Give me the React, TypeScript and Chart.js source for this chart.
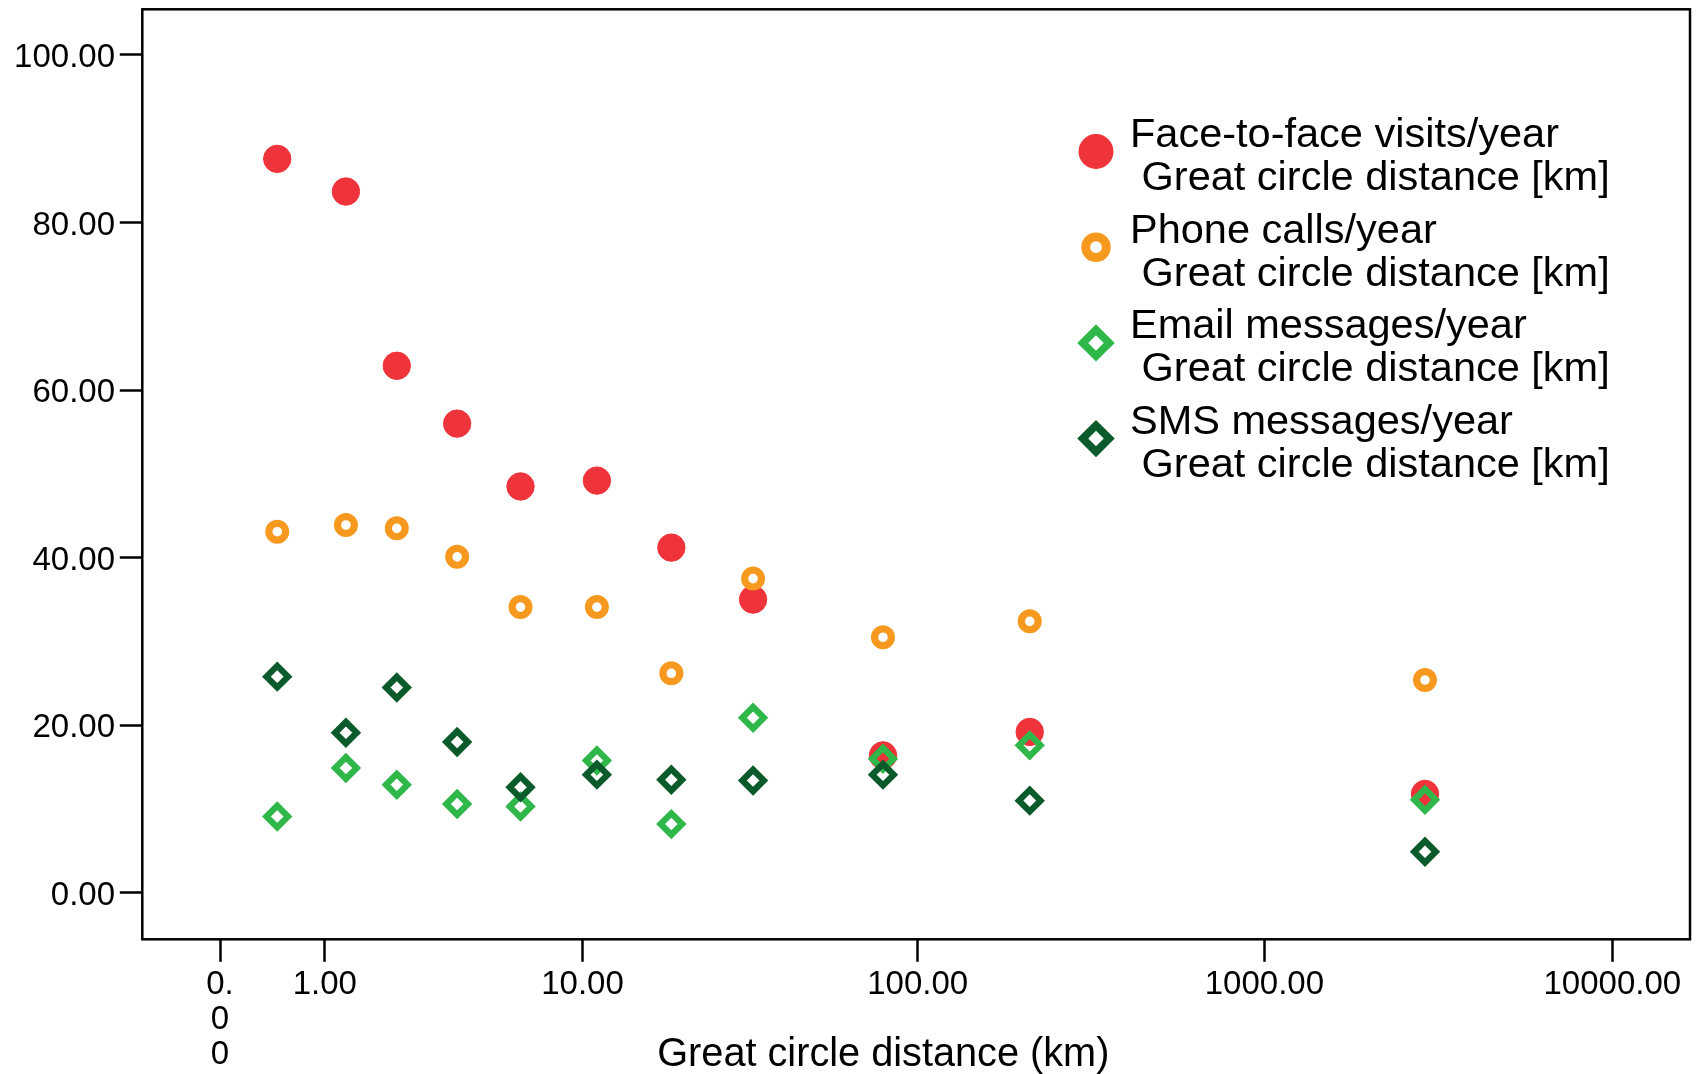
import React, { useEffect, useRef } from 'react';
import { Chart, registerables } from 'chart.js';

Chart.register(...registerables);

// ---- Data ----
const distanceKm = [0.46, 1.3, 2.22, 3.8, 6.3, 11.1, 18.8, 33, 79.3, 211, 2896];
const faceToFaceVisits = [87.6, 83.7, 62.9, 56.0, 48.5, 49.2, 41.2, 35.0, 16.4, 19.2, 11.8];
const phoneCalls = [43.1, 43.9, 43.5, 40.1, 34.1, 34.1, 26.2, 37.5, 30.5, 32.4, 25.4];
const emailMessages = [9.1, 14.9, 12.9, 10.6, 10.3, 15.8, 8.2, 20.9, 16.0, 17.6, 11.1];
const smsMessages = [25.8, 19.1, 24.5, 18.0, 12.6, 14.1, 13.5, 13.4, 14.1, 11.0, 4.9];

const xTickValues = [0, 1, 10, 100, 1000, 10000];
const yTickValues = [0, 20, 40, 60, 80, 100];

const seriesLabels = [
  'Face-to-face visits/year',
  'Phone calls/year',
  'Email messages/year',
  'SMS messages/year',
];
const legendSubLabel = ' Great circle distance [km]';
const xAxisTitle = 'Great circle distance (km)';

// ---- Styles ----
const FONT = '"Liberation Sans", Arial, Helvetica, sans-serif';
const RED = '#ef333b';
const ORANGE = '#f7991f';
const LIGHT_GREEN = '#2fb74a';
const DARK_GREEN = '#0b5a2b';
const CLEAR = 'rgba(0,0,0,0)';

const toX = (d: number) => Math.log10(d + 1);

const points = (ys: number[]) => distanceKm.map((d, i) => ({ x: toX(d), y: ys[i] }));

const zeroPadding = (s: any) => {
  s.paddingTop = 0;
  s.paddingBottom = 0;
  s.paddingLeft = 0;
  s.paddingRight = 0;
};

const framePlugin = {
  id: 'frame',
  afterDatasetsDraw(chart: any) {
    const { ctx, chartArea: a } = chart;
    ctx.save();
    ctx.strokeStyle = '#000';
    ctx.lineWidth = 2.5;
    ctx.strokeRect(a.left, a.top, a.right - a.left, a.bottom - a.top);
    ctx.restore();
  },
};

const legendPlugin = {
  id: 'customLegend',
  afterDraw(chart: any) {
    const { ctx } = chart;
    const markerX = 1096;
    const textX = 1130;
    const firstBaseline = 147;
    const lineGap = 43;
    const entryGap = 95.7;
    const k = 1.23;
    chart.data.datasets.forEach((ds: any, i: number) => {
      const base = firstBaseline + i * entryGap;
      const my = base + 4.5;
      ctx.save();
      const r = ds.pointRadius * k;
      const bw = ds.pointBorderWidth * k;
      ctx.beginPath();
      if (ds.pointStyle === 'rectRot') {
        ctx.moveTo(markerX - r, my);
        ctx.lineTo(markerX, my - r);
        ctx.lineTo(markerX + r, my);
        ctx.lineTo(markerX, my + r);
        ctx.closePath();
      } else {
        ctx.arc(markerX, my, r, 0, Math.PI * 2);
      }
      ctx.fillStyle = ds.pointBackgroundColor;
      ctx.fill();
      if (bw > 0) {
        ctx.lineWidth = bw;
        ctx.strokeStyle = ds.pointBorderColor;
        ctx.stroke();
      }
      ctx.restore();

      ctx.save();
      ctx.fillStyle = '#000';
      ctx.font = `41.5px ${FONT}`;
      ctx.textAlign = 'left';
      ctx.textBaseline = 'alphabetic';
      ctx.fillText(seriesLabels[i], textX, base);
      ctx.fillText(legendSubLabel, textX, base + lineGap);
      ctx.restore();
    });

    // x-axis title
    ctx.save();
    ctx.fillStyle = '#000';
    ctx.font = `40.5px ${FONT}`;
    ctx.textAlign = 'center';
    ctx.textBaseline = 'alphabetic';
    ctx.translate(883.3, 1065.7);
    ctx.scale(0.98, 1);
    ctx.fillText(xAxisTitle, 0, 0);
    ctx.restore();
  },
};

export default function App() {
  const canvasRef = useRef<HTMLCanvasElement | null>(null);

  useEffect(() => {
    const canvas = canvasRef.current;
    if (!canvas) return;
    const tickFont = { family: FONT, size: 33, lineHeight: 1.07 };
    const chart = new Chart(canvas, {
      type: 'scatter',
      data: {
        datasets: [
          {
            label: seriesLabels[0],
            data: points(faceToFaceVisits),
            pointStyle: 'circle',
            pointRadius: 13.7,
            pointBorderWidth: 1,
            pointBackgroundColor: RED,
            pointBorderColor: RED,
            order: 4,
          },
          {
            label: seriesLabels[1],
            data: points(phoneCalls),
            pointStyle: 'circle',
            pointRadius: 8.4,
            pointBorderWidth: 7.2,
            pointBackgroundColor: CLEAR,
            pointBorderColor: ORANGE,
            order: 3,
          },
          {
            label: seriesLabels[2],
            data: points(emailMessages),
            pointStyle: 'rectRot',
            pointRadius: 10.75,
            pointBorderWidth: 6.3,
            pointBackgroundColor: CLEAR,
            pointBorderColor: LIGHT_GREEN,
            order: 2,
          },
          {
            label: seriesLabels[3],
            data: points(smsMessages),
            pointStyle: 'rectRot',
            pointRadius: 10.75,
            pointBorderWidth: 6.3,
            pointBackgroundColor: CLEAR,
            pointBorderColor: DARK_GREEN,
            order: 1,
          },
        ] as any,
      },
      options: {
        animation: false,
        responsive: false,
        devicePixelRatio: 1,
        events: [],
        layout: { autoPadding: false, padding: { top: 9.3, right: 13, bottom: 0, left: 0 } },
        plugins: {
          legend: { display: false },
          tooltip: { enabled: false },
          title: { display: false },
        },
        scales: {
          x: {
            type: 'linear',
            min: -0.2233,
            max: 4.2233,
            afterBuildTicks: (s: any) => {
              s.ticks = xTickValues.map((v) => ({ value: toX(v) }));
            },
            afterFit: (s: any) => {
              s.height = 134.7;
              zeroPadding(s);
            },
            ticks: {
              autoSkip: false,
              maxRotation: 0,
              minRotation: 0,
              padding: 5.2,
              color: '#000',
              font: tickFont,
              callback: (v: any) => {
                const d = Math.round(Math.pow(10, Number(v)) - 1);
                return d === 0 ? ['0.', '0', '0'] : d.toFixed(2);
              },
            },
            grid: {
              drawOnChartArea: false,
              drawTicks: true,
              tickLength: 22.5,
              tickWidth: 2.5,
              tickColor: '#000',
            },
            border: { display: false },
          },
          y: {
            type: 'linear',
            min: -5.55,
            max: 105.45,
            afterBuildTicks: (s: any) => {
              s.ticks = yTickValues.map((v) => ({ value: v }));
            },
            afterFit: (s: any) => {
              s.width = 142.3;
              zeroPadding(s);
            },
            ticks: {
              padding: 4.8,
              labelOffset: 3,
              color: '#000',
              font: tickFont,
              callback: (v: any) => Number(v).toFixed(2),
            },
            grid: {
              drawOnChartArea: false,
              drawTicks: true,
              tickLength: 22.5,
              tickWidth: 2.5,
              tickColor: '#000',
            },
            border: { display: false },
          },
        },
      } as any,
      plugins: [framePlugin, legendPlugin],
    });
    return () => chart.destroy();
  }, []);

  return (
    <div style={{ position: 'fixed', left: 0, top: 0, width: 1703, height: 1074, background: '#fff' }}>
      <canvas ref={canvasRef} width={1703} height={1074} style={{ display: 'block', width: 1703, height: 1074 }} />
    </div>
  );
}
